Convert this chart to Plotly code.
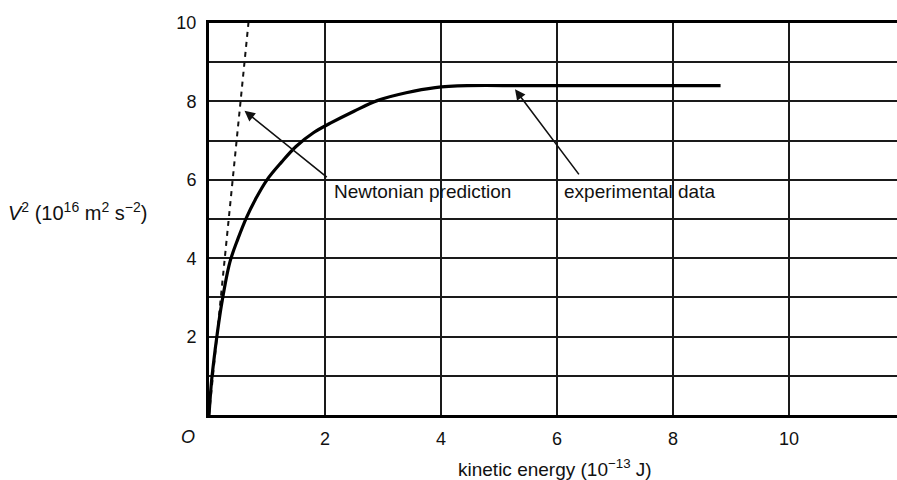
import plotly.graph_objects as go

# Experimental data curve (kinetic energy in 1e-13 J, v^2 in 1e16 m^2 s^-2)
exp_ke = [0, 0.04, 0.08, 0.14, 0.22, 0.36, 0.5, 0.65, 0.8, 1.0, 1.25, 1.5, 1.8, 2.1, 2.5, 2.9, 3.4, 3.9, 4.45, 5.5, 8.82]
exp_v2 = [0, 0.8, 1.35, 2.05, 2.85, 3.9, 4.5, 5.05, 5.5, 6.0, 6.45, 6.85, 7.2, 7.45, 7.75, 8.02, 8.22, 8.35, 8.4, 8.4, 8.4]

# Newtonian prediction (straight line from origin)
newt_ke = [0, 0.68]
newt_v2 = [0, 10]

x_ticks = [2, 4, 6, 8, 10]
y_ticks = [2, 4, 6, 8, 10]
y_minor = [1, 3, 5, 7, 9]

FONT = "Liberation Sans, Arial, sans-serif"

fig = go.Figure()
fig.add_trace(go.Scatter(x=newt_ke, y=newt_v2, mode="lines",
                         line=dict(color="#111", width=2, dash="5px,5px"),
                         hoverinfo="skip", showlegend=False))
fig.add_trace(go.Scatter(x=exp_ke, y=exp_v2, mode="lines",
                         line=dict(color="#000", width=3.2, shape="spline", smoothing=1.0),
                         hoverinfo="skip", showlegend=False))

grid_col = "#1a1a1a"
fig.update_xaxes(range=[0, 688 / 58], tickvals=x_ticks, ticktext=[str(v) for v in x_ticks],
                 showgrid=True, gridcolor=grid_col, gridwidth=1.6, zeroline=False,
                 showline=True, linecolor="#000", linewidth=3, mirror=True,
                 ticks="", ticklabelstandoff=5,
                 tickfont=dict(family=FONT, size=18, color="#111"))
fig.update_yaxes(range=[0, 10], tickvals=y_ticks, ticktext=[str(v) for v in y_ticks],
                 showgrid=True, gridcolor=grid_col, gridwidth=1.6, zeroline=False,
                 showline=True, linecolor="#000", linewidth=3, mirror=False,
                 ticks="", ticklabelstandoff=6,
                 minor=dict(tickvals=y_minor, showgrid=True, gridcolor=grid_col,
                            gridwidth=1.6, ticks=""),
                 tickfont=dict(family=FONT, size=18, color="#111"))

ann_font = dict(family=FONT, size=19, color="#111")
annotations = [
    # arrows
    dict(x=0.612, y=7.76, ax=2.057, ay=6.04, xref="x", yref="y", axref="x", ayref="y",
         showarrow=True, arrowhead=2, arrowsize=1.3, arrowwidth=1.6, arrowcolor="#111",
         text="", standoff=0),
    dict(x=5.276, y=8.31, ax=6.397, ay=6.10, xref="x", yref="y", axref="x", ayref="y",
         showarrow=True, arrowhead=2, arrowsize=1.3, arrowwidth=1.6, arrowcolor="#111",
         text="", standoff=0),
    # labels
    dict(x=2.12, y=5.69, xref="x", yref="y", text="Newtonian prediction", showarrow=False,
         xanchor="left", yanchor="middle", font=ann_font),
    dict(x=6.08, y=5.70, xref="x", yref="y", text="experimental data", showarrow=False,
         xanchor="left", yanchor="middle", font=ann_font),
    dict(x=-0.0301, y=-0.0554, xref="paper", yref="paper", text="<i>O</i>", showarrow=False,
         xanchor="center", yanchor="middle", font=dict(family=FONT, size=18, color="#111")),
    dict(x=0.503, y=-0.135, xref="paper", yref="paper",
         text="kinetic energy (10<sup>\u221213</sup> J)", showarrow=False,
         xanchor="center", yanchor="middle", font=dict(family=FONT, size=19, color="#111")),
    dict(x=(6 - 209) / 688, y=(415 - 211) / 392, xref="paper", yref="paper",
         text="<i>V</i><sup>2</sup> (10<sup>16</sup> m<sup>2</sup> s<sup>\u22122</sup>)",
         showarrow=False, xanchor="left", yanchor="middle",
         font=dict(family=FONT, size=20, color="#111")),
]

fig.update_layout(width=897, height=480, margin=dict(l=209, r=0, t=23, b=65),
                  paper_bgcolor="white", plot_bgcolor="white",
                  annotations=annotations, showlegend=False)

# remove the page's default body margin so the figure fills the window exactly
post = ("document.body.style.margin='0';"
        "document.body.style.overflow='hidden';"
        "document.documentElement.style.overflow='hidden';")
fig.write_html("out.html", post_script=post, config={"displayModeBar": False})
